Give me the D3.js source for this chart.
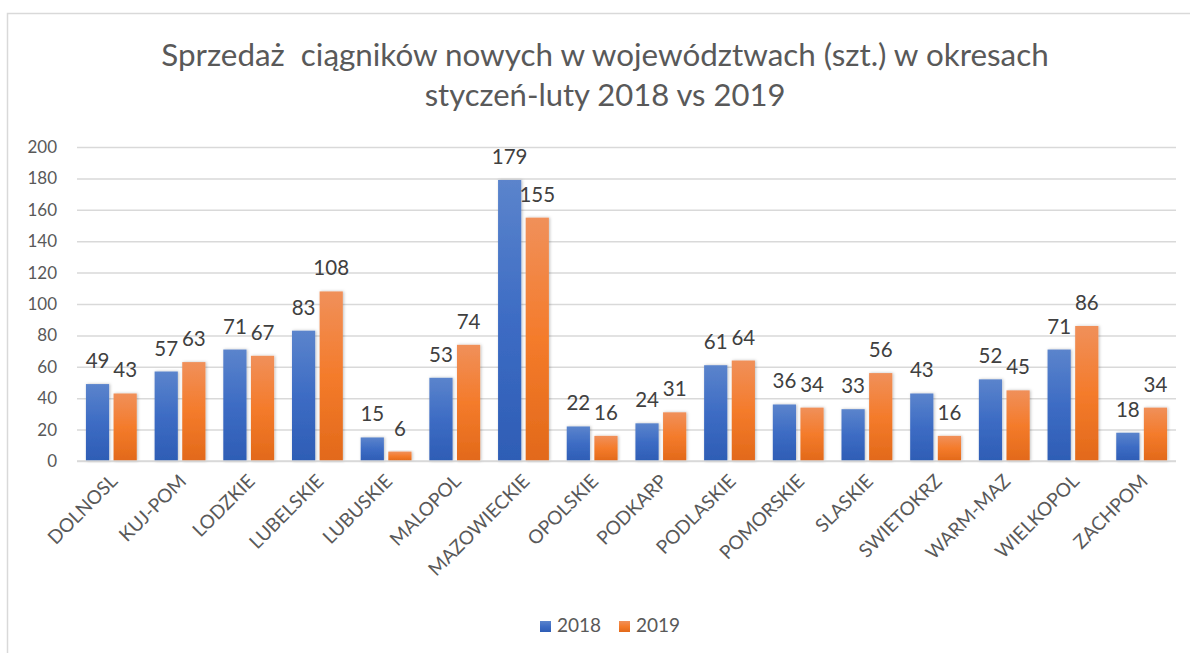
<!DOCTYPE html>
<html>
<head>
<meta charset="utf-8">
<script src="https://cdn.jsdelivr.net/npm/d3@7"></script>
<style>
  body { margin: 0; background: #fff; }
  svg { display: block; font-family: Lato, "Open Sans", sans-serif; }
</style>
</head>
<body>
<svg id="chart" width="1190" height="653"></svg>
<script>
const regions = ["DOLNOSL", "KUJ-POM", "LODZKIE", "LUBELSKIE", "LUBUSKIE", "MALOPOL",
  "MAZOWIECKIE", "OPOLSKIE", "PODKARP", "PODLASKIE", "POMORSKIE", "SLASKIE",
  "SWIETOKRZ", "WARM-MAZ", "WIELKOPOL", "ZACHPOM"];
const years = ["2018", "2019"];
const sales2018 = [49, 57, 71, 83, 15, 53, 179, 22, 24, 61, 36, 33, 43, 52, 71, 18];
const sales2019 = [43, 63, 67, 108, 6, 74, 155, 16, 31, 64, 34, 56, 16, 45, 86, 34];
const yTicks = [0, 20, 40, 60, 80, 100, 120, 140, 160, 180, 200];
const titleLines = ["Sprzedaż  ciągników nowych w województwach (szt.) w okresach",
  "styczeń-luty 2018 vs 2019"];

const series = [sales2018, sales2019];
const colors = {
  "2018": ["#5b84cc", "#3d6cc4", "#2e5db5"],
  "2019": ["#f0905a", "#f47b2b", "#e2691a"]
};

const svg = d3.select("#chart");
const margin = {left: 77, right: 14, top: 147, bottom: 192};
const W = 1190, H = 653;

// frame
svg.append("rect")
  .attr("x", 7.5).attr("y", 13.5)
  .attr("width", 1200).attr("height", 700)
  .attr("fill", "none").attr("stroke", "#d9d9d9").attr("stroke-width", 1.5);

// gradients
const defs = svg.append("defs");
for (let y of years) {
  const g = defs.append("linearGradient")
    .attr("id", "grad" + y)
    .attr("x1", 0).attr("y1", 0).attr("x2", 0).attr("y2", 1);
  g.append("stop").attr("offset", "0%").attr("stop-color", colors[y][0]);
  g.append("stop").attr("offset", "50%").attr("stop-color", colors[y][1]);
  g.append("stop").attr("offset", "100%").attr("stop-color", colors[y][2]);
}
const shadow = defs.append("filter").attr("id", "shadow")
  .attr("x", "-30%").attr("y", "-10%").attr("width", "160%").attr("height", "120%");
shadow.append("feDropShadow").attr("dx", 1).attr("dy", 0).attr("stdDeviation", 1.5)
  .attr("flood-color", "#000").attr("flood-opacity", 0.25);

const x = d3.scaleBand()
  .domain(regions)
  .range([margin.left, W - margin.right])
  .paddingInner(0.26).paddingOuter(0.13);
const xs = d3.scaleBand()
  .domain(years)
  .range([0, x.bandwidth()])
  .paddingInner(0.16);
const y = d3.scaleLinear()
  .domain([0, 200])
  .range([H - margin.bottom, margin.top]);

// title
svg.append("g").selectAll("text")
  .data(titleLines)
  .join("text")
  .attr("x", 605)
  .attr("y", (d, i) => 66 + i * 40)
  .attr("text-anchor", "middle")
  .attr("font-size", (d, i) => i ? 31 : 31.4)
  .attr("fill", "#595959")
  .style("white-space", "pre")
  .text(d => d);

// grid + y axis
const yAxis = d3.axisLeft(y).tickValues(yTicks).tickSize(-(W - margin.left - margin.right)).tickPadding(20);
const ya = svg.append("g")
  .attr("transform", `translate(${margin.left},0)`)
  .call(yAxis);
ya.select(".domain").remove();
ya.selectAll(".tick line").attr("stroke", "#d9d9d9").attr("stroke-width", 1.5);
ya.selectAll(".tick text")
  .attr("font-size", 17).attr("fill", "#595959").attr("font-family", "Lato, sans-serif");

// bars
const groups = svg.append("g").selectAll("g")
  .data(regions)
  .join("g")
  .attr("transform", d => `translate(${x(d)},0)`);

groups.selectAll("rect")
  .data((d, i) => years.map((yr, k) => ({yr, v: series[k][i]})))
  .join("rect")
  .attr("x", d => xs(d.yr))
  .attr("y", d => y(d.v))
  .attr("width", xs.bandwidth())
  .attr("height", d => y(0) - y(d.v))
  .attr("fill", d => "url(#grad" + d.yr + ")")
  .attr("filter", "url(#shadow)");

groups.selectAll("text.lbl")
  .data((d, i) => years.map((yr, k) => ({yr, v: series[k][i]})))
  .join("text")
  .attr("class", "lbl")
  .attr("x", d => xs(d.yr) + xs.bandwidth() / 2)
  .attr("y", d => y(d.v) - 16)
  .attr("text-anchor", "middle")
  .attr("font-size", 20.5)
  .attr("fill", "#404040")
  .text(d => d.v);

// x axis line
svg.append("line")
  .attr("x1", margin.left).attr("x2", W - margin.right)
  .attr("y1", y(0)).attr("y2", y(0))
  .attr("stroke", "#d9d9d9").attr("stroke-width", 1.5);

// x labels
svg.append("g").selectAll("text")
  .data(regions)
  .join("text")
  .attr("transform", d => `translate(${x(d) + x.bandwidth() / 2 - 2},${y(0) + 12}) rotate(-45)`)
  .attr("text-anchor", "end")
  .attr("dy", "0.7em")
  .attr("font-size", 19)
  .attr("fill", "#595959")
  .text(d => d);

// legend
const legend = svg.append("g").attr("transform", "translate(540,620)");
const items = legend.selectAll("g")
  .data(years)
  .join("g")
  .attr("transform", (d, i) => `translate(${i * 79},0)`);
items.append("rect")
  .attr("width", 11).attr("height", 11).attr("y", 1)
  .attr("fill", d => "url(#grad" + d + ")");
items.append("text")
  .attr("x", 17).attr("y", 12)
  .attr("font-size", 19)
  .attr("fill", "#595959")
  .text(d => d);
</script>
</body>
</html>
